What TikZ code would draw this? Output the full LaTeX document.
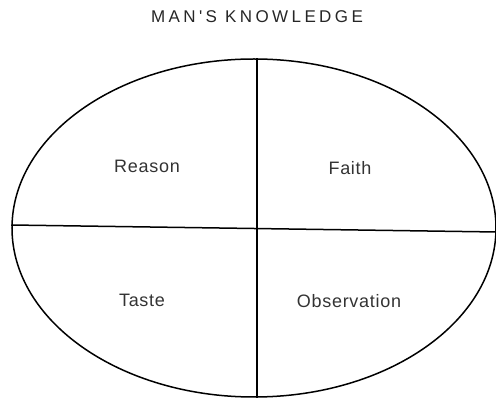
\documentclass[tikz,border=0pt]{standalone}
\usepackage{fontspec}
\setmainfont{Liberation Sans}
\newfontfamily\widetitle[LetterSpace=20]{Liberation Sans}
\newfontfamily\widelabel[LetterSpace=4]{Liberation Sans}
\usetikzlibrary{shapes.geometric, positioning}
\tikzset{
  oval/.style={ellipse, draw=black, line width=1.5pt, minimum width=484pt, minimum height=338pt, inner sep=0pt},
  divider/.style={draw=black, line width=1.5pt},
  quadlabel/.style={font=\widelabel\fontsize{18}{21}\selectfont, text=black!80, inner sep=0pt},
  titlelabel/.style={font=\widetitle\fontsize{17}{20}\selectfont, text=black!85, inner sep=0pt},
}
\begin{document}
\begin{tikzpicture}[x=1pt, y=-1pt]
  \useasboundingbox (0,0) rectangle (496,398);

  %% title
  \node[titlelabel] (title) at (257,17) {MAN'S KNOWLEDGE};

  %% the oval and its four parts
  \node[oval] (knowledge) at (254,228) {};
  \draw[divider] ([xshift=3pt]knowledge.north) -- ([xshift=3pt]knowledge.south);
  \draw[divider] ([yshift=3pt]knowledge.west) -- ([yshift=-4pt]knowledge.east);

  %% labels
  \node[quadlabel] (reason) at (147,166) {Reason};
  \node[quadlabel] (faith) at (350,168) {Faith};
  \node[quadlabel] (taste) at (142,300) {Taste};
  \node[quadlabel] (observation) at (349,301) {Observation};

\end{tikzpicture}
\end{document}
